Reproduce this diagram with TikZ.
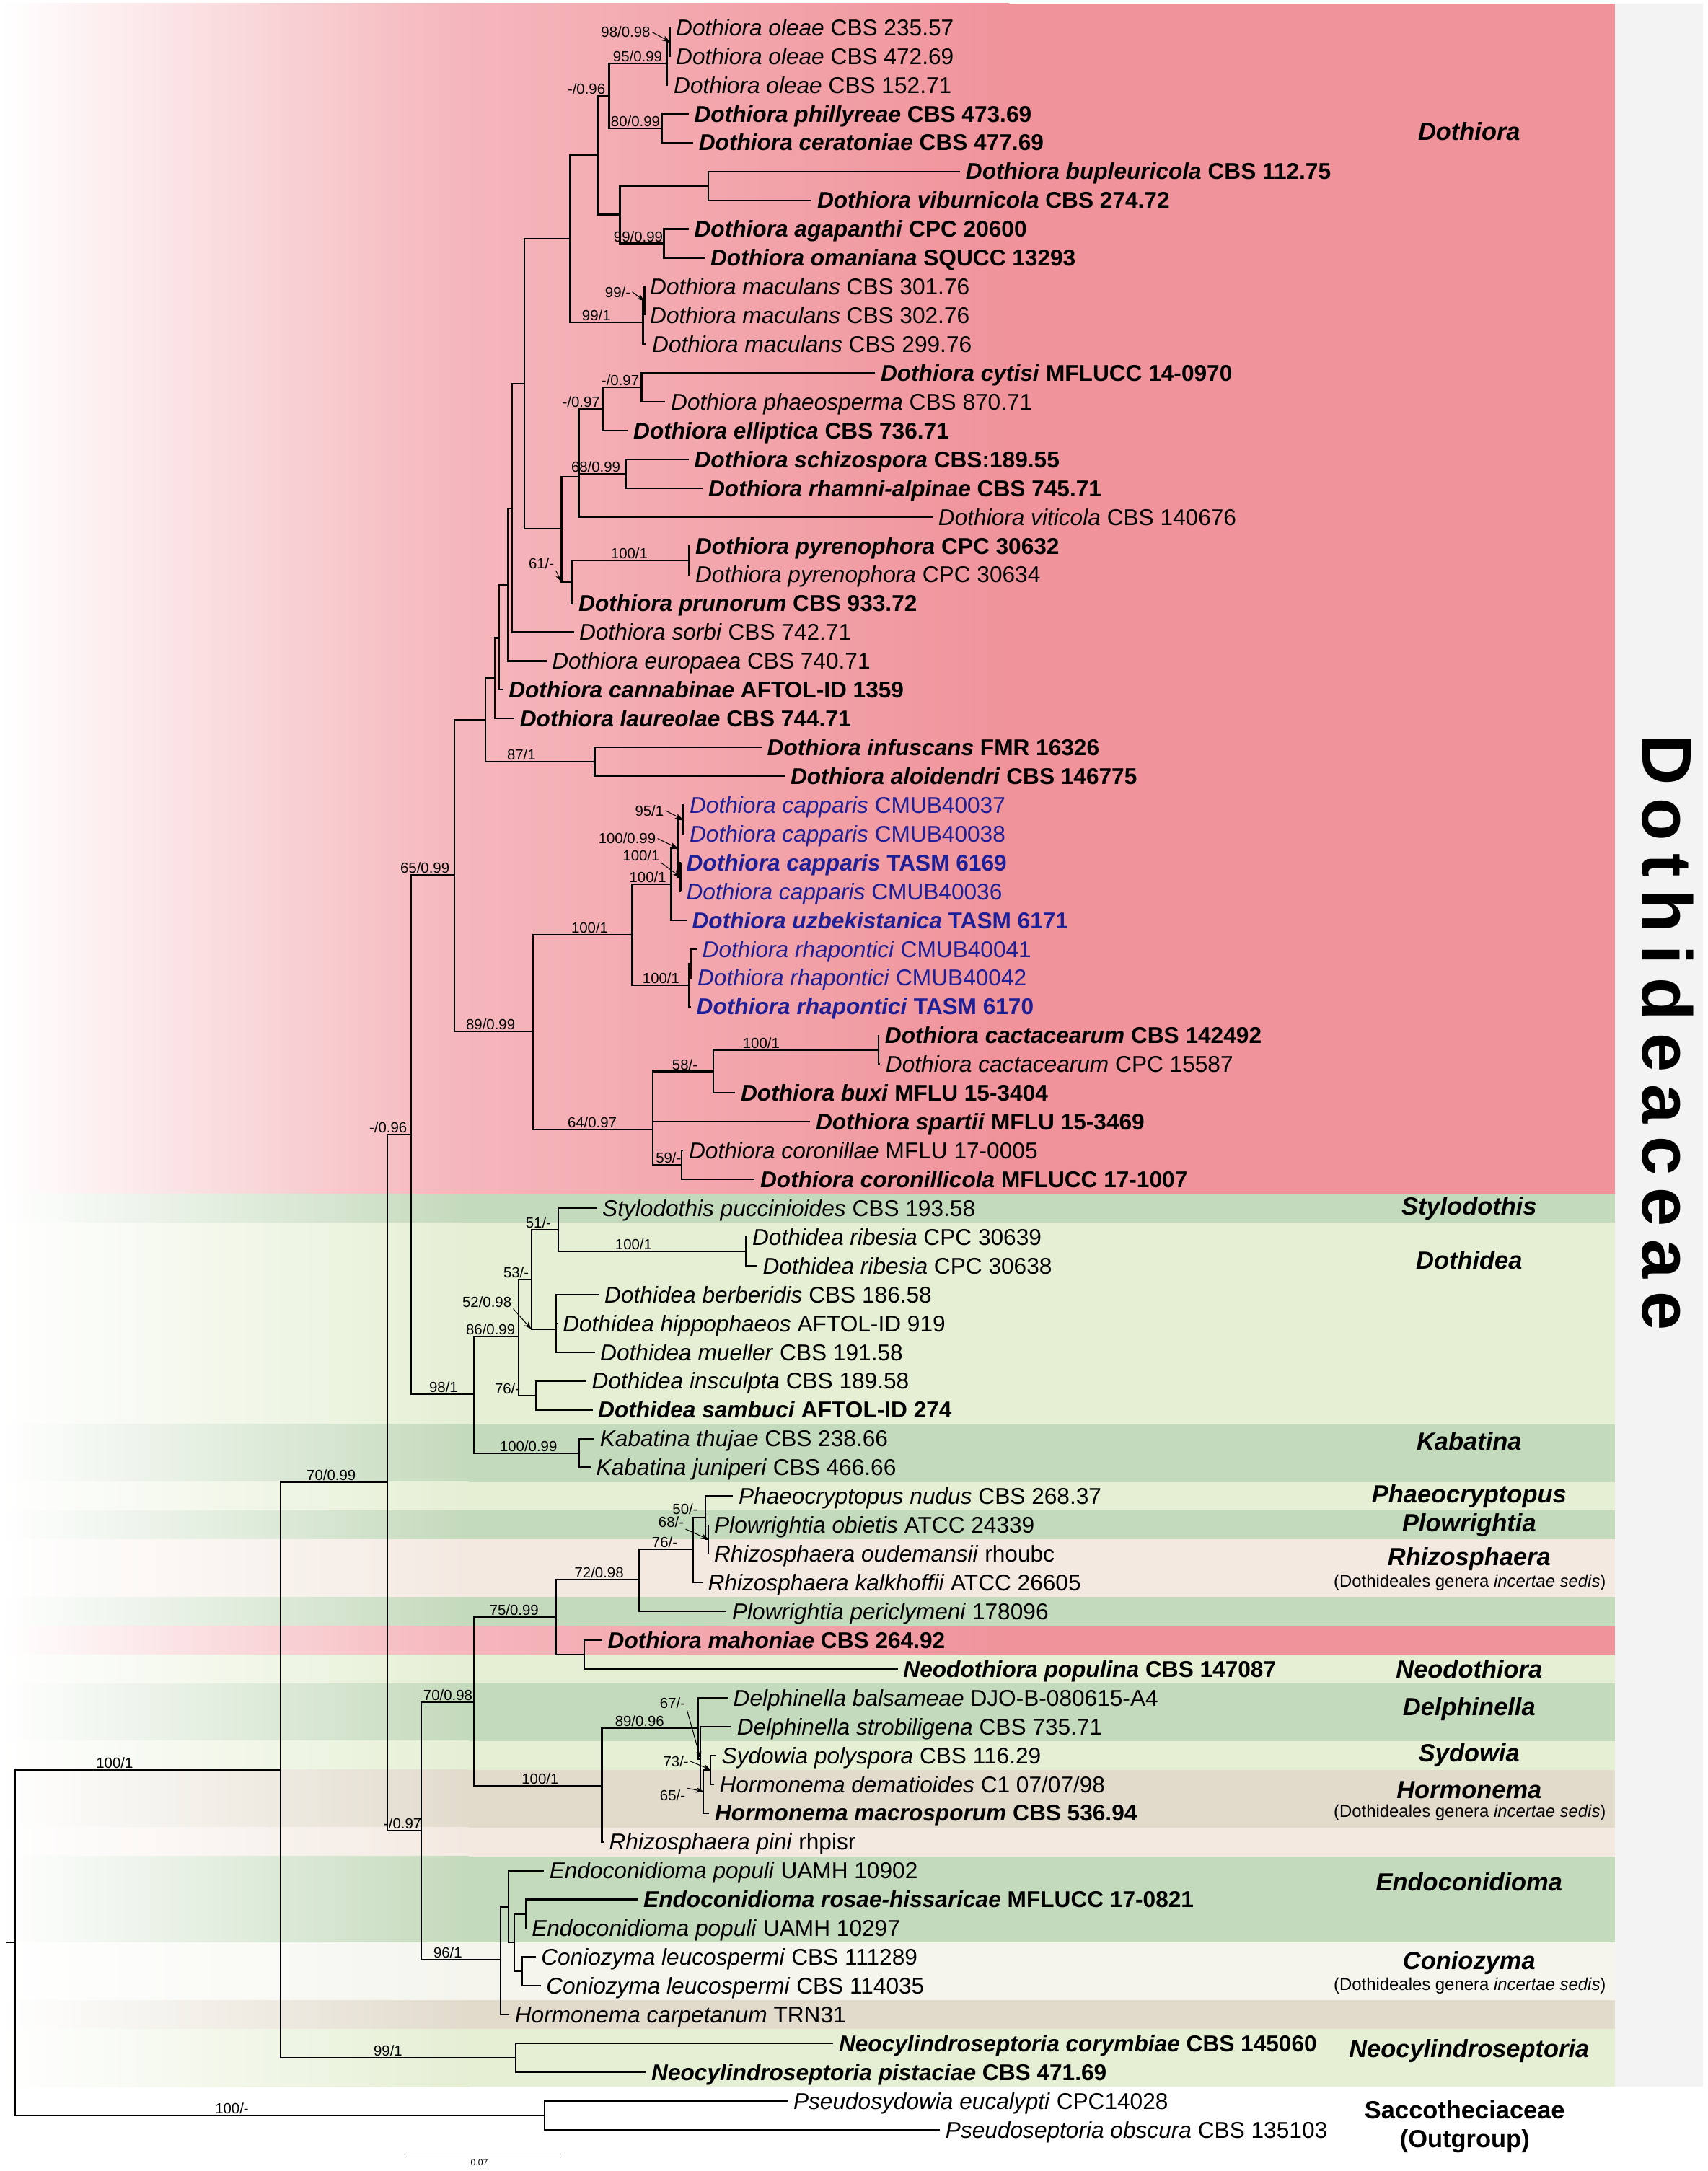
\documentclass[tikz,border=0pt]{standalone}
\usepackage{fontspec}
\setmainfont{Liberation Sans}
\newfontfamily\famfont[LetterSpace=18]{Liberation Sans}
\usetikzlibrary{arrows.meta}

\definecolor{dothpink}{RGB}{240,147,155}
\definecolor{dothpinklt}{RGB}{245,184,189}
\definecolor{greendk}{RGB}{196,218,188}
\definecolor{greenlt}{RGB}{229,239,212}
\definecolor{bandbeige}{RGB}{243,233,225}
\definecolor{bandtan}{RGB}{226,219,204}
\definecolor{bandpale}{RGB}{245,245,238}
\definecolor{stripgray}{RGB}{242,243,242}
\definecolor{capblue}{RGB}{30,30,150}

% one coloured row band, fading in from the left
\newcommand{\band}[3]{%
  \shade[left color=white,right color=#3] (0,#1) rectangle (650,#2);
  \fill[#3] (649,#1) rectangle (2240,#2);}

\tikzset{
  tax/.style={anchor=west,inner xsep=0.07cm,inner ysep=0pt,text height=6.4pt,text depth=0pt,font=\fontsize{9}{10}\selectfont},
  btax/.style={tax,font=\fontsize{9}{10}\selectfont\bfseries},
  ctax/.style={tax,text=capblue},
  cbtax/.style={btax,text=capblue},
  sup/.style={anchor=south west,inner sep=0.5pt,text depth=0pt,font=\fontsize{5.8}{6}\selectfont},
  clade/.style={font=\fontsize{9.8}{11}\selectfont\bfseries\itshape},
  note/.style={font=\fontsize{6.8}{8}\selectfont},
  br/.style={line width=0.6pt},
  pt/.style={-{Stealth[length=3pt,width=2.2pt]},line width=0.3pt},
}

\begin{document}
\begin{tikzpicture}[x=0.01cm,y=-0.3993cm]
\useasboundingbox (0,0.048) rectangle (2369,75.43);

% backgrounds
\shade[left color=white,right color=dothpinklt] (0,0.17) rectangle (620,41.5);
\shade[left color=dothpinklt,right color=dothpink] (619,0.17) rectangle (1400,41.5);
\fill[dothpink] (1399,0.17) rectangle (2240,41.5);
\band{41.5}{42.5}{greendk}
\band{42.5}{49.5}{greenlt}
\band{49.5}{51.5}{greendk}
\band{51.5}{52.5}{greenlt}
\band{52.5}{53.5}{greendk}
\band{53.5}{55.5}{bandbeige}
\band{55.5}{56.5}{greendk}
\shade[left color=white,right color=dothpinklt] (0,56.5) rectangle (620,57.5);
\shade[left color=dothpinklt,right color=dothpink] (619,56.5) rectangle (1400,57.5);
\fill[dothpink] (1399,56.5) rectangle (2240,57.5);
\band{57.5}{58.5}{greenlt}
\band{58.5}{60.5}{greendk}
\band{60.5}{61.5}{greenlt}
\band{61.5}{63.5}{bandtan}
\band{63.5}{64.5}{bandbeige}
\band{64.5}{67.5}{greendk}
\band{67.5}{69.5}{bandpale}
\band{69.5}{70.5}{bandtan}
\band{70.5}{72.5}{greenlt}
\fill[stripgray] (2240,0.17) rectangle (2362,72.5);

% taxa
\node[tax] (t1) at (930,1) {\textit{Dothiora oleae} CBS 235.57};
\node[tax] (t2) at (930,2) {\textit{Dothiora oleae} CBS 472.69};
\node[tax] (t3) at (927,3) {\textit{Dothiora oleae} CBS 152.71};
\node[btax] (t4) at (955.5,4) {\textit{Dothiora phillyreae} CBS 473.69};
\node[btax] (t5) at (961.7,5) {\textit{Dothiora ceratoniae} CBS 477.69};
\node[btax] (t6) at (1332,6) {\textit{Dothiora bupleuricola} CBS 112.75};
\node[btax] (t7) at (1126,7) {\textit{Dothiora viburnicola} CBS 274.72};
\node[btax] (t8) at (955.5,8) {\textit{Dothiora agapanthi} CPC 20600};
\node[btax] (t9) at (978,9) {\textit{Dothiora omaniana} SQUCC 13293};
\node[tax] (t10) at (894,10) {\textit{Dothiora maculans} CBS 301.76};
\node[tax] (t11) at (894,11) {\textit{Dothiora maculans} CBS 302.76};
\node[tax] (t12) at (897,12) {\textit{Dothiora maculans} CBS 299.76};
\node[btax] (t13) at (1214,13) {\textit{Dothiora cytisi} MFLUCC 14-0970};
\node[tax] (t14) at (923,14) {\textit{Dothiora phaeosperma} CBS 870.71};
\node[btax] (t15) at (871,15) {\textit{Dothiora elliptica} CBS 736.71};
\node[btax] (t16) at (955.5,16) {\textit{Dothiora schizospora} CBS:189.55};
\node[btax] (t17) at (975,17) {\textit{Dothiora rhamni-alpinae} CBS 745.71};
\node[tax] (t18) at (1294,18) {\textit{Dothiora viticola} CBS 140676};
\node[btax] (t19) at (957,19) {\textit{Dothiora pyrenophora} CPC 30632};
\node[tax] (t20) at (957,20) {\textit{Dothiora pyrenophora} CPC 30634};
\node[btax] (t21) at (795,21) {\textit{Dothiora prunorum} CBS 933.72};
\node[tax] (t22) at (796,22) {\textit{Dothiora sorbi} CBS 742.71};
\node[tax] (t23) at (758,23) {\textit{Dothiora europaea} CBS 740.71};
\node[btax] (t24) at (698,24) {\textit{Dothiora cannabinae} AFTOL-ID 1359};
\node[btax] (t25) at (713.6,25) {\textit{Dothiora laureolae} CBS 744.71};
\node[btax] (t26) at (1056.6,26) {\textit{Dothiora infuscans} FMR 16326};
\node[btax] (t27) at (1089,27) {\textit{Dothiora aloidendri} CBS 146775};
\node[ctax] (t28) at (949,28) {\textit{Dothiora capparis} CMUB40037};
\node[ctax] (t29) at (949,29) {\textit{Dothiora capparis} CMUB40038};
\node[cbtax] (t30) at (944.5,30) {\textit{Dothiora capparis} TASM 6169};
\node[ctax] (t31) at (944.5,31) {\textit{Dothiora capparis} CMUB40036};
\node[cbtax] (t32) at (952.5,32) {\textit{Dothiora uzbekistanica} TASM 6171};
\node[ctax] (t33) at (966.6,33) {\textit{Dothiora rhapontici} CMUB40041};
\node[ctax] (t34) at (960,34) {\textit{Dothiora rhapontici} CMUB40042};
\node[cbtax] (t35) at (958.6,35) {\textit{Dothiora rhapontici} TASM 6170};
\node[btax] (t36) at (1220,36) {\textit{Dothiora cactacearum} CBS 142492};
\node[tax] (t37) at (1221,37) {\textit{Dothiora cactacearum} CPC 15587};
\node[btax] (t38) at (1020,38) {\textit{Dothiora buxi} MFLU 15-3404};
\node[btax] (t39) at (1124,39) {\textit{Dothiora spartii} MFLU 15-3469};
\node[tax] (t40) at (948,40) {\textit{Dothiora coronillae} MFLU 17-0005};
\node[btax] (t41) at (1047,41) {\textit{Dothiora coronillicola} MFLUCC 17-1007};
\node[tax] (t42) at (828,42) {\textit{Stylodothis puccinioides} CBS 193.58};
\node[tax] (t43) at (1036,43) {\textit{Dothidea ribesia} CPC 30639};
\node[tax] (t44) at (1050.5,44) {\textit{Dothidea ribesia} CPC 30638};
\node[tax] (t45) at (831,45) {\textit{Dothidea berberidis} CBS 186.58};
\node[tax] (t46) at (773,46) {\textit{Dothidea hippophaeos} AFTOL-ID 919};
\node[tax] (t47) at (825,47) {\textit{Dothidea mueller} CBS 191.58};
\node[tax] (t48) at (813.5,48) {\textit{Dothidea insculpta} CBS 189.58};
\node[btax] (t49) at (822,49) {\textit{Dothidea sambuci} AFTOL-ID 274};
\node[tax] (t50) at (824.6,50) {\textit{Kabatina thujae} CBS 238.66};
\node[tax] (t51) at (819.5,51) {\textit{Kabatina juniperi} CBS 466.66};
\node[tax] (t52) at (1017,52) {\textit{Phaeocryptopus nudus} CBS 268.37};
\node[tax] (t53) at (983,53) {\textit{Plowrightia obietis} ATCC 24339};
\node[tax] (t54) at (983,54) {\textit{Rhizosphaera oudemansii} rhoubc};
\node[tax] (t55) at (974.5,55) {\textit{Rhizosphaera kalkhoffii} ATCC 26605};
\node[tax] (t56) at (1008,56) {\textit{Plowrightia periclymeni} 178096};
\node[btax] (t57) at (835.5,57) {\textit{Dothiora mahoniae} CBS 264.92};
\node[btax] (t58) at (1245.5,58) {\textit{Neodothiora populina} CBS 147087};
\node[tax] (t59) at (1009.6,59) {\textit{Delphinella balsameae} DJO-B-080615-A4};
\node[tax] (t60) at (1014.7,60) {\textit{Delphinella strobiligena} CBS 735.71};
\node[tax] (t61) at (993.6,61) {\textit{Sydowia polyspora} CBS 116.29};
\node[tax] (t62) at (990.5,62) {\textit{Hormonema dematioides} C1 07/07/98};
\node[btax] (t63) at (984,63) {\textit{Hormonema macrosporum} CBS 536.94};
\node[tax] (t64) at (837.4,64) {\textit{Rhizosphaera pini} rhpisr};
\node[tax] (t65) at (754.5,65) {\textit{Endoconidioma populi} UAMH 10902};
\node[btax] (t66) at (885,66) {\textit{Endoconidioma rosae-hissaricae} MFLUCC 17-0821};
\node[tax] (t67) at (730,67) {\textit{Endoconidioma populi} UAMH 10297};
\node[tax] (t68) at (743,68) {\textit{Coniozyma leucospermi} CBS 111289};
\node[tax] (t69) at (750,69) {\textit{Coniozyma leucospermi} CBS 114035};
\node[tax] (t70) at (706.6,70) {\textit{Hormonema carpetanum} TRN31};
\node[btax] (t71) at (1156,71) {\textit{Neocylindroseptoria corymbiae} CBS 145060};
\node[btax] (t72) at (896,72) {\textit{Neocylindroseptoria pistaciae} CBS 471.69};
\node[tax] (t73) at (1093,73) {\textit{Pseudosydowia eucalypti} CPC14028};
\node[tax] (t74) at (1304,74) {\textit{Pseudoseptoria obscura} CBS 135103};

% internal nodes
\coordinate (n1) at (929.5,1.5);
\coordinate (n2) at (925,2.25);
\coordinate (n3) at (918,4.5);
\coordinate (n4) at (845,3.375);
\coordinate (n5) at (983,6.5);
\coordinate (n6) at (921,8.5);
\coordinate (n7) at (860,7.5);
\coordinate (n8) at (829,5.44);
\coordinate (n9) at (894,10.5);
\coordinate (n10) at (892,11.25);
\coordinate (n11) at (791,8.34);
\coordinate (n12) at (890,13.5);
\coordinate (n13) at (836,14.25);
\coordinate (n14) at (868,16.5);
\coordinate (n15) at (803,16.6);
\coordinate (n16) at (956,19.5);
\coordinate (n17) at (793,20.25);
\coordinate (n18) at (779,18.4);
\coordinate (n19) at (727,13.37);
\coordinate (n20) at (710,17.7);
\coordinate (n21) at (704,20.35);
\coordinate (n22) at (692,22.2);
\coordinate (n23) at (686,23.6);
\coordinate (n24) at (825,26.5);
\coordinate (n25) at (673.5,25.05);
\coordinate (n26) at (947,28.5);
\coordinate (n27) at (944,30.5);
\coordinate (n28) at (940,29.5);
\coordinate (n29) at (931,30.75);
\coordinate (n30) at (959,33.5);
\coordinate (n31) at (956,34.25);
\coordinate (n32) at (877,32.5);
\coordinate (n33) at (1219,36.5);
\coordinate (n34) at (990,37.25);
\coordinate (n35) at (945.4,40.5);
\coordinate (n36) at (905.6,39.27);
\coordinate (n37) at (739,35.86);
\coordinate (n38) at (630.6,30.43);
\coordinate (n39) at (1035,43.5);
\coordinate (n40) at (774.5,42.75);
\coordinate (n41) at (771.5,46.2);
\coordinate (n42) at (737,44.47);
\coordinate (n43) at (743,48.5);
\coordinate (n44) at (719.4,46.46);
\coordinate (n45) at (803,50.5);
\coordinate (n46) at (657.6,48.46);
\coordinate (n47) at (570.5,39.44);
\coordinate (n48) at (983,53.5);
\coordinate (n49) at (979,52.75);
\coordinate (n50) at (962,53.85);
\coordinate (n51) at (887,54.9);
\coordinate (n52) at (810.6,57.5);
\coordinate (n53) at (771,56.2);
\coordinate (n54) at (986,61.5);
\coordinate (n55) at (976,62.25);
\coordinate (n56) at (972,61.12);
\coordinate (n57) at (969,60.06);
\coordinate (n58) at (835,62.05);
\coordinate (n59) at (657.5,59.15);
\coordinate (n60) at (729.6,66.5);
\coordinate (n61) at (724.5,68.5);
\coordinate (n62) at (713.6,67.5);
\coordinate (n63) at (705.4,66.25);
\coordinate (n64) at (694.5,68.1);
\coordinate (n65) at (584,63.6);
\coordinate (n66) at (537,51.5);
\coordinate (n67) at (715.6,71.5);
\coordinate (n68) at (389,61.5);
\coordinate (n69) at (755,73.5);
\coordinate (n70) at (21.4,67.5);
\coordinate (rt) at (9,67.5);

% branches
\draw[br] (t1.west) -| (n1) |- (t2.west);
\draw[br] (n1) -| (n2) |- (t3.west);
\draw[br] (t4.west) -| (n3) |- (t5.west);
\draw[br] (n2) -| (n4) |- (n3);
\draw[br] (t6.west) -| (n5) |- (t7.west);
\draw[br] (t8.west) -| (n6) |- (t9.west);
\draw[br] (n5) -| (n7) |- (n6);
\draw[br] (n4) -| (n8) |- (n7);
\draw[br] (t10.west) -| (n9) |- (t11.west);
\draw[br] (n9) -| (n10) |- (t12.west);
\draw[br] (n8) -| (n11) |- (n10);
\draw[br] (t13.west) -| (n12) |- (t14.west);
\draw[br] (n12) -| (n13) |- (t15.west);
\draw[br] (t16.west) -| (n14) |- (t17.west);
\draw[br] (n13) -| (n15) |- (n14) (n15) |- (t18.west);
\draw[br] (t19.west) -| (n16) |- (t20.west);
\draw[br] (n16) -| (n17) |- (t21.west);
\draw[br] (n15) -| (n18) |- (n17);
\draw[br] (n11) -| (n19) |- (n18);
\draw[br] (n19) -| (n20) |- (t22.west);
\draw[br] (n20) -| (n21) |- (t23.west);
\draw[br] (n21) -| (n22) |- (t24.west);
\draw[br] (n22) -| (n23) |- (t25.west);
\draw[br] (t26.west) -| (n24) |- (t27.west);
\draw[br] (n23) -| (n25) |- (n24);
\draw[br] (t28.west) -| (n26) |- (t29.west);
\draw[br] (t30.west) -| (n27) |- (t31.west);
\draw[br] (n26) -| (n28) |- (n27);
\draw[br] (n28) -| (n29) |- (t32.west);
\draw[br] (t33.west) -| (n30) |- (t34.west);
\draw[br] (n30) -| (n31) |- (t35.west);
\draw[br] (n29) -| (n32) |- (n31);
\draw[br] (t36.west) -| (n33) |- (t37.west);
\draw[br] (n33) -| (n34) |- (t38.west);
\draw[br] (t40.west) -| (n35) |- (t41.west);
\draw[br] (n34) -| (n36) |- (t39.west) (n36) |- (n35);
\draw[br] (n32) -| (n37) |- (n36);
\draw[br] (n25) -| (n38) |- (n37);
\draw[br] (t43.west) -| (n39) |- (t44.west);
\draw[br] (t42.west) -| (n40) |- (n39);
\draw[br] (t45.west) -| (n41) |- (t46.west) (n41) |- (t47.west);
\draw[br] (n40) -| (n42) |- (n41);
\draw[br] (t48.west) -| (n43) |- (t49.west);
\draw[br] (n42) -| (n44) |- (n43);
\draw[br] (t50.west) -| (n45) |- (t51.west);
\draw[br] (n44) -| (n46) |- (n45);
\draw[br] (n38) -| (n47) |- (n46);
\draw[br] (t53.west) -| (n48) |- (t54.west);
\draw[br] (t52.west) -| (n49) |- (n48);
\draw[br] (n49) -| (n50) |- (t55.west);
\draw[br] (n50) -| (n51) |- (t56.west);
\draw[br] (t57.west) -| (n52) |- (t58.west);
\draw[br] (n51) -| (n53) |- (n52);
\draw[br] (t61.west) -| (n54) |- (t62.west);
\draw[br] (n54) -| (n55) |- (t63.west);
\draw[br] (t60.west) -| (n56) |- (n55);
\draw[br] (t59.west) -| (n57) |- (n56);
\draw[br] (n57) -| (n58) |- (t64.west);
\draw[br] (n53) -| (n59) |- (n58);
\draw[br] (t66.west) -| (n60) |- (t67.west);
\draw[br] (t68.west) -| (n61) |- (t69.west);
\draw[br] (n60) -| (n62) |- (n61);
\draw[br] (t65.west) -| (n63) |- (n62);
\draw[br] (n63) -| (n64) |- (t70.west);
\draw[br] (n59) -| (n65) |- (n64);
\draw[br] (n47) -| (n66) |- (n65);
\draw[br] (t71.west) -| (n67) |- (t72.west);
\draw[br] (n66) -| (n68) |- (n67);
\draw[br] (t73.west) -| (n69) |- (t74.west);
\draw[br] (n68) -| (n70) |- (n69);
\draw[br] (rt) -- (n70);

% support values
\node[sup] (l1) at (831.5,1.41) {98/0.98};
\node[sup] (l2) at (848,2.25) {95/0.99};
\node[sup] (l3) at (845,4.5) {80/0.99};
\node[sup] (l4) at (785,3.375) {-/0.96};
\node[sup] (l6) at (849,8.5) {99/0.99};
\node[sup] (l9) at (837,10.43) {99/-};
\node[sup] (l10) at (805,11.25) {99/1};
\node[sup] (l12) at (832,13.5) {-/0.97};
\node[sup] (l13) at (777.6,14.25) {-/0.97};
\node[sup] (l14) at (790,16.5) {68/0.99};
\node[sup] (l16) at (845,19.5) {100/1};
\node[sup] (l17) at (731,19.86) {61/-};
\node[sup] (l24) at (701,26.5) {87/1};
\node[sup] (l26) at (878.6,28.44) {95/1};
\node[sup] (l28) at (827.8,29.41) {100/0.99};
\node[sup] (l27) at (861.5,30.01) {100/1};
\node[sup] (l29) at (870.7,30.75) {100/1};
\node[sup] (l38) at (553,30.43) {65/0.99};
\node[sup] (l32) at (790,32.5) {100/1};
\node[sup] (l31) at (889,34.25) {100/1};
\node[sup] (l37) at (644,35.86) {89/0.99};
\node[sup] (l33) at (1028,36.5) {100/1};
\node[sup] (l34) at (930,37.25) {58/-};
\node[sup] (l36) at (785,39.27) {64/0.97};
\node[sup] (l35) at (907.4,40.5) {59/-};
\node[sup] (l47) at (510,39.44) {-/0.96};
\node[sup] (l40) at (726.8,42.75) {51/-};
\node[sup] (l39) at (851,43.5) {100/1};
\node[sup] (l42) at (696,44.47) {53/-};
\node[sup] (l41) at (639,45.49) {52/0.98};
\node[sup] (l44) at (644,46.46) {86/0.99};
\node[sup] (l43) at (684,48.5) {76/-};
\node[sup] (l46) at (593,48.46) {98/1};
\node[sup] (l45) at (691,50.5) {100/0.99};
\node[sup] (l66) at (423,51.5) {70/0.99};
\node[sup] (l49) at (930.5,52.7) {50/-};
\node[sup] (l48) at (911,53.14) {68/-};
\node[sup] (l50) at (902,53.85) {76/-};
\node[sup] (l51) at (794.6,54.9) {72/0.98};
\node[sup] (l53) at (676.7,56.2) {75/0.99};
\node[sup] (l59) at (584.8,59.15) {70/0.98};
\node[sup] (l56) at (913,59.43) {67/-};
\node[sup] (l57) at (850.8,60.06) {89/0.96};
\node[sup] (l54) at (917.7,61.45) {73/-};
\node[sup] (l58) at (721.3,62.05) {100/1};
\node[sup] (l55) at (913,62.63) {65/-};
\node[sup] (l65) at (530,63.6) {-/0.97};
\node[sup] (l64) at (598.9,68.1) {96/1};
\node[sup] (l67) at (516,71.5) {99/1};
\node[sup] (l68) at (131,61.5) {100/1};
\node[sup] (l69) at (296,73.5) {100/-};

\draw[pt] (l1.east) -- (n1);
\draw[pt] (l9.east) -- (n9);
\draw[pt] (l17.south east) -- (n18 |- n17);
\draw[pt] (l26.east) -- (n26);
\draw[pt] (l28.east) -- (n28);
\draw[pt] (l27.south east) -- (n27);
\draw[pt] (l41.south east) -- (n42 |- n41);
\draw[pt] (l48.south east) -- (n48);
\draw[pt] (l56.south east) -- (n56);
\draw[pt] (l54.east) -- (n54);
\draw[pt] (l55.north east) -- (n55);

% scale bar
\coordinate (sb1) at (562,74.83);
\coordinate (sb2) at (778,74.83);
\draw[line width=0.3pt] (sb1) -- (sb2);
\node[font=\fontsize{3.5}{4}\selectfont,inner sep=0pt] (sbl) at (665,75.13) {0.07};

% clade names
\node[clade] (cDothiora) at (2038,4.6) {Dothiora};
\node[clade] (cStylo) at (2038,42) {Stylodothis};
\node[clade] (cDothidea) at (2038,43.8) {Dothidea};
\node[clade] (cKabatina) at (2038,50.1) {Kabatina};
\node[clade] (cPhaeo) at (2038,52) {Phaeocryptopus};
\node[clade] (cPlow) at (2038,53) {Plowrightia};
\node[clade] (cRhizo) at (2038,54.18) {Rhizosphaera};
\node[note] (nRhizo) at (2039,55.0) {(Dothideales genera \textit{incertae sedis})};
\node[clade] (cNeodoth) at (2038,58) {Neodothiora};
\node[clade] (cDelph) at (2038,59.4) {Delphinella};
\node[clade] (cSydowia) at (2038,61) {Sydowia};
\node[clade] (cHorm) at (2038,62.2) {Hormonema};
\node[note] (nHorm) at (2039,63.0) {(Dothideales genera \textit{incertae sedis})};
\node[clade] (cEndo) at (2038,65.4) {Endoconidioma};
\node[clade] (cConio) at (2038,68.2) {Coniozyma};
\node[note] (nConio) at (2039,69.0) {(Dothideales genera \textit{incertae sedis})};
\node[clade] (cNeocyl) at (2038,71.25) {Neocylindroseptoria};
\node[font=\fontsize{9.8}{11}\selectfont\bfseries] (cSacc) at (2032,73.3) {Saccotheciaceae};
\node[font=\fontsize{9.8}{11}\selectfont\bfseries] (cOut) at (2032,74.4) {(Outgroup)};
\node[rotate=-90,font=\famfont\fontsize{27.7}{30}\selectfont\bfseries] (fam) at (2314,35.9) {Dothideaceae};
\end{tikzpicture}
\end{document}
